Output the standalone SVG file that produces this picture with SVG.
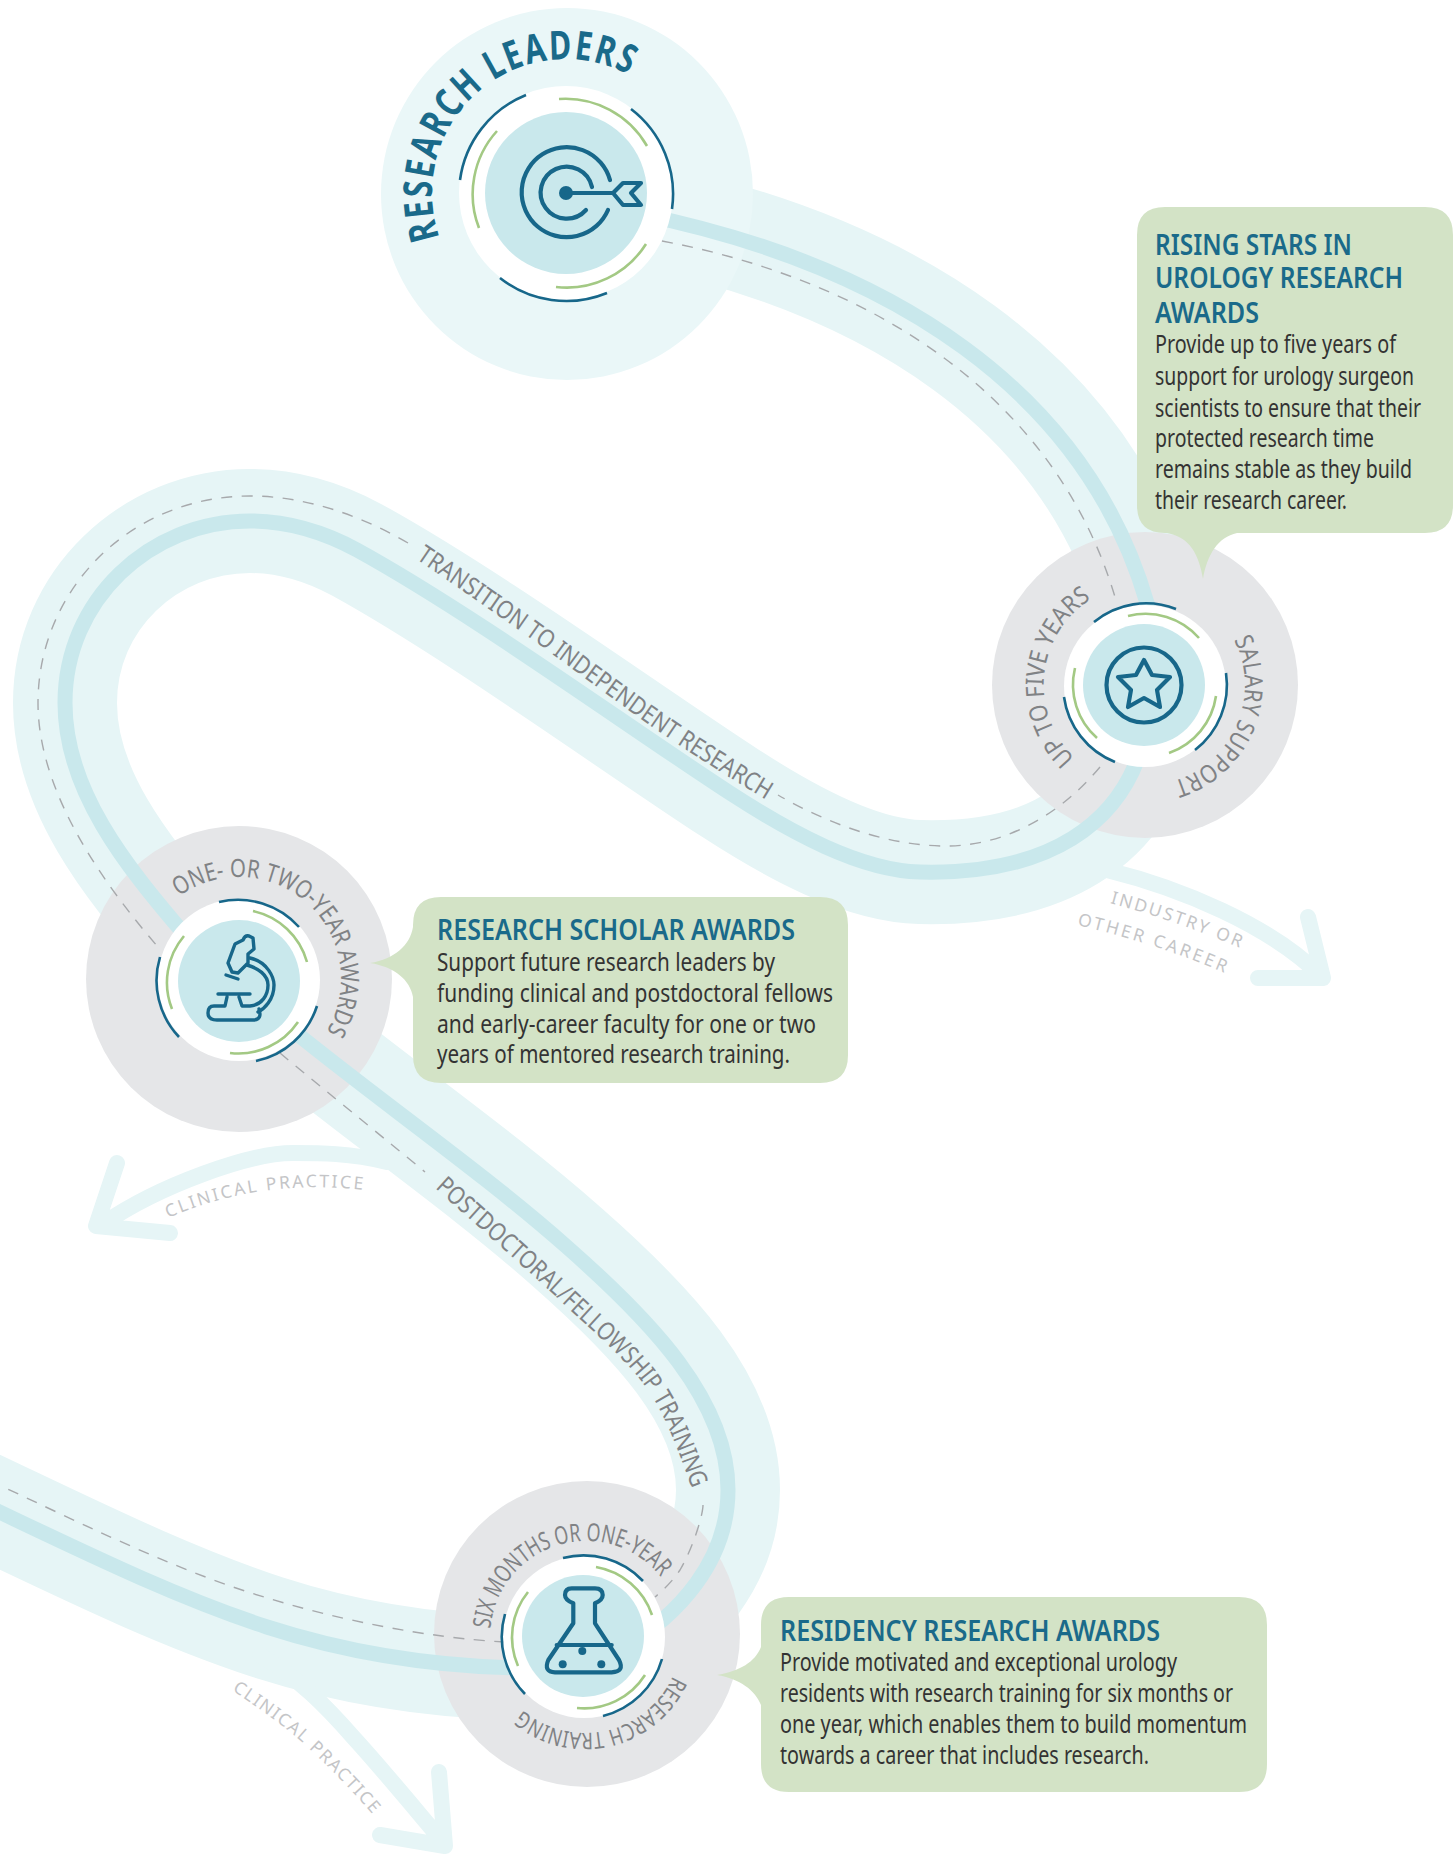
<svg xmlns="http://www.w3.org/2000/svg" width="1453" height="1854" viewBox="0 0 1453 1854">
<style>
text{font-family:"Noto Sans","Open Sans","Liberation Sans",sans-serif}
.band{fill:none;stroke:#e6f5f6;stroke-width:104}
.core{fill:none;stroke:#c9e8ec;stroke-width:15}
.dash{fill:none;stroke:#a7a9ac;stroke-width:1.4;stroke-dasharray:11 9.5}
.exit{fill:none;stroke:#e6f5f6;stroke-width:16;stroke-linecap:round;stroke-linejoin:round}
.disc{fill:#e5e6e8}
.hole{fill:#fff}
.pupil{fill:#c9e8ec}
.da{fill:none;stroke:#17678a;stroke-width:2.6}
.ga{fill:none;stroke:#a3c984;stroke-width:2.6}
.ico{fill:none;stroke:#17678a;stroke-width:4.2;stroke-linecap:round;stroke-linejoin:round}
.ico2{fill:none;stroke:#17678a;stroke-width:3.4;stroke-linecap:round;stroke-linejoin:round}
.dot{fill:#17678a}
.lab{font-size:25px;fill:#808285}
.soft{font-size:17.5px;fill:#c4c5c7}
.box{fill:#d3e3c6}
.h{font-size:28px;font-weight:600;fill:#1a6a8a}
.b{font-size:26px;fill:#333}
</style>
<defs>
<path id="r-a" d="M640,214C890,265 1085,390 1147,603L1158,650"/>
<path id="r-b" d="M1148,720C1130,830 1040,875 920,872C860,870.5 790,832 730,793C630,728 470,612 357,550C320,530 285,521 250,521C150,521 65,600 65,703C65,790 125,865 185,935"/>
<path id="r-c" d="M280,1020C375,1098 480,1170 567,1247C650,1320 728,1400 728,1490C728,1560 680,1615 620,1650"/>
<path id="r-d" d="M560,1668C460,1670 360,1657 267,1627C170,1595 80,1550 -30,1498"/>
<path id="tp-top" d="M439.6,237.5A134,134 0 0 1 631,76"/>
<path id="tp-s1" d="M1075,758A101,101 0 0 1 1091.5,599"/>
<path id="tp-s2" d="M1234,640A100,100 0 0 1 1174,781"/>
<path id="tp-m" d="M179,896.5A102,102 0 0 1 326.4,1031.5"/>
<path id="tp-f1" d="M490.4,1628.6A96,96 0 0 1 660.6,1576.6"/>
<path id="tp-f2" d="M672.7,1676A96,96 0 0 1 523.3,1710.5"/>
<path id="tp-trans" d="M416,559C434,571 482,604 523,633C564,662 620,705 661,733C702,761 750,790 768,801"/>
<path id="tp-post" d="M435,1188C457,1208 531,1273 567,1307C603,1341 630,1363 650,1393C670,1423 686,1474 693,1491"/>
<path id="tp-ind" d="M1110,903Q1180,922 1245,950"/>
<path id="tp-oth" d="M1077,925Q1155,943 1225,973"/>
<path id="tp-cl1" d="M168,1218Q260,1178 364,1190"/>
<path id="tp-cl2" d="M232,1690C258,1708 282,1724 303,1743C330,1768 355,1793 377,1820"/>
</defs>
<g id="band-layer">
<use href="#r-a" class="band"/>
<use href="#r-b" class="band"/>
<use href="#r-c" class="band"/>
<use href="#r-d" class="band"/>
</g>
<g id="exit-arrows">
<path class="exit" d="M1107,870C1180,888 1270,925 1322,977M1308,917L1323,978L1258,978"/>
<path class="exit" d="M387,1162C350,1153 320,1153 293,1153C250,1153 160,1185 103,1224M117,1163L96,1226L170,1233"/>
<path class="exit" d="M260,1655C300,1680 325,1705 353,1737C385,1772 420,1815 444,1843M439,1772L445,1846L380,1835"/>
<text class="soft" letter-spacing="3"><textPath href="#tp-ind" textLength="140">INDUSTRY OR</textPath></text>
<text class="soft" letter-spacing="3"><textPath href="#tp-oth" textLength="158">OTHER CAREER</textPath></text>
<text class="soft" letter-spacing="3"><textPath href="#tp-cl1" textLength="202">CLINICAL PRACTICE</textPath></text>
<text class="soft" letter-spacing="2"><textPath href="#tp-cl2" textLength="190">CLINICAL PRACTICE</textPath></text>
</g>
<circle id="top-halo" cx="567" cy="194" r="186" fill="#eaf7f8"/>
<circle class="disc" cx="1145" cy="685" r="153"/>
<circle class="disc" cx="239" cy="979" r="153"/>
<circle class="disc" cx="587" cy="1634" r="153"/>
<g id="connectors">
<use href="#r-a" class="core"/>
<use href="#r-b" class="core"/>
<use href="#r-c" class="core"/>
<use href="#r-d" class="core"/>
<path class="dash" d="M662,241C870,280 1055,395 1115,597"/>
<path class="dash" d="M1100,767C1060,815 1005,846 946,846C890,846 830,825 778,795"/>
<path class="dash" d="M408,543C360,515 305,496 250,496C130,496 38,590 38,703C38,790 100,880 158,947"/>
<path class="dash" d="M280,1053C300,1070 390,1143 425,1172"/>
<path class="dash" d="M703,1505C703,1515 693,1548 680,1570C672,1582 662,1591 655,1597"/>
<path class="dash" d="M505,1642C430,1638 330,1620 233,1587C150,1558 70,1518 -20,1476"/>
<text class="lab" font-size="26"><textPath href="#tp-trans" textLength="425" lengthAdjust="spacingAndGlyphs">TRANSITION TO INDEPENDENT RESEARCH</textPath></text>
<text class="lab" font-size="26"><textPath href="#tp-post" textLength="402" lengthAdjust="spacingAndGlyphs">POSTDOCTORAL/FELLOWSHIP TRAINING</textPath></text>
</g>
<g id="node-research-leaders">
<circle class="hole" cx="566" cy="193" r="107"/>
<circle class="pupil" cx="566" cy="193" r="81"/>
<path class="da" d="M460,180A107,107 0 0 1 526,95M631,109A107,107 0 0 1 672,209M500,278A107,107 0 0 0 607,293"/>
<path class="ga" d="M497,131A94,94 0 0 0 479,228M559,99A94,94 0 0 1 647,146M646,244A94,94 0 0 1 556,287"/>
<path class="ico" d="M610,180A45,45 0 1 0 608,210"/>
<path class="ico" d="M592,187A26,26 0 1 0 586,210"/>
<circle class="dot" cx="566" cy="193" r="7"/>
<path class="ico" d="M566,193H613M613,193L623,183H641L631,193L641,205H623Z"/>
<text font-size="40" font-weight="700" fill="#1a6a8a" letter-spacing="2.5"><textPath href="#tp-top" textLength="322" lengthAdjust="spacingAndGlyphs">RESEARCH LEADERS</textPath></text>
</g>
<g id="node-star">
<circle class="hole" cx="1145" cy="686" r="81"/>
<circle class="pupil" cx="1144" cy="685" r="61"/>
<path class="da" d="M1094,622A82,82 0 0 1 1176,609M1226,673A82,82 0 0 1 1195,750M1115,762A82,82 0 0 1 1064,697"/>
<path class="ga" d="M1128,616A71,71 0 0 1 1199,638M1216,696A71,71 0 0 1 1169,753M1097,738A71,71 0 0 1 1075,668"/>
<circle class="ico" cx="1144" cy="685" r="37.5"/>
<path class="ico" d="M1144,660L1152,675L1170,677L1157,690L1160,707L1144,698L1128,707L1131,690L1118,677L1136,675Z"/>
<text class="lab"><textPath href="#tp-s1" textLength="184" lengthAdjust="spacingAndGlyphs">UP TO FIVE YEARS</textPath></text>
<text class="lab"><textPath href="#tp-s2" textLength="175" lengthAdjust="spacingAndGlyphs">SALARY SUPPORT</textPath></text>
</g>
<g id="node-microscope">
<circle class="hole" cx="239" cy="980" r="81"/>
<circle class="pupil" cx="239" cy="981" r="61"/>
<path class="da" d="M219,902A82,82 0 0 1 299,927M317,1006A82,82 0 0 1 256,1061M179,1037A82,82 0 0 1 160,957"/>
<path class="ga" d="M253,911A72,72 0 0 1 307,962M298,1022A72,72 0 0 1 230,1053M172,1009A72,72 0 0 1 184,936"/>
<path class="ico2" d="M235,944L243,940Q245,935 249,936L253,938L254,949L248,954L248,963L238,973L232,972L228,963Z"/>
<path class="ico2" d="M226,975L238,979"/>
<path class="ico2" d="M250,958C268,962 274,978 274,985C274,1000 264,1009 258,1012"/>
<path class="ico2" d="M247,965C258,968 268,975 268,985C268,995 262,1005 250,1006L242,1006L239,997M218,994H250M227,997L225,1006H214Q208,1006 208,1013Q208,1020 217,1020H253Q260,1020 260,1014L259,1009"/>
<text class="lab"><textPath href="#tp-m" textLength="279" lengthAdjust="spacingAndGlyphs">ONE- OR TWO-YEAR AWARDS</textPath></text>
</g>
<g id="node-flask">
<circle class="hole" cx="584" cy="1637" r="81"/>
<circle class="pupil" cx="583" cy="1636" r="61"/>
<path class="da" d="M563,1558A82,82 0 0 1 643,1581M662,1659A82,82 0 0 1 603,1716M525,1694A82,82 0 0 1 505,1614"/>
<path class="ga" d="M596,1567A72,72 0 0 1 652,1615M645,1675A72,72 0 0 1 577,1708M518,1666A72,72 0 0 1 528,1592"/>
<path class="ico" d="M573.3,1603.3V1623.3L548.3,1660Q543.3,1671.7 555,1672.3H611.7Q625,1671.7 619,1660L595,1623.3V1603.3Q602.7,1600 602.7,1595Q602.7,1588.3 595,1588.3H571.7Q565,1588.3 565,1595Q565,1600 573.3,1603.3ZM556.7,1645H611.7"/>
<circle class="dot" cx="582.3" cy="1651" r="4"/>
<circle class="dot" cx="562.7" cy="1664.3" r="4"/>
<circle class="dot" cx="601.3" cy="1664.3" r="4"/>
<text class="lab"><textPath href="#tp-f1" textLength="228" lengthAdjust="spacingAndGlyphs">SIX MONTHS OR ONE-YEAR</textPath></text>
<text class="lab" style="font-size:23px"><textPath href="#tp-f2" textLength="178" lengthAdjust="spacingAndGlyphs">RESEARCH TRAINING</textPath></text>
</g>
<g id="callout-rising-stars">
<path class="box" d="M1165,207H1425Q1453,207 1453,235V505Q1453,533 1425,533H1237C1218,537 1207,555 1203,579C1199,555 1190,537 1167,533H1165Q1137,533 1137,505V235Q1137,207 1165,207Z"/>
<text class="h" x="1155" y="255" textLength="197" lengthAdjust="spacingAndGlyphs">RISING STARS IN</text>
<text class="h" x="1155" y="288" textLength="248" lengthAdjust="spacingAndGlyphs">UROLOGY RESEARCH</text>
<text class="h" x="1155" y="323" textLength="104" lengthAdjust="spacingAndGlyphs">AWARDS</text>
<text class="b" x="1155" y="353" textLength="241" lengthAdjust="spacingAndGlyphs">Provide up to five years of</text>
<text class="b" x="1155" y="385" textLength="259" lengthAdjust="spacingAndGlyphs">support for urology surgeon</text>
<text class="b" x="1155" y="417" textLength="266" lengthAdjust="spacingAndGlyphs">scientists to ensure that their</text>
<text class="b" x="1155" y="447" textLength="219" lengthAdjust="spacingAndGlyphs">protected research time</text>
<text class="b" x="1155" y="478" textLength="257" lengthAdjust="spacingAndGlyphs">remains stable as they build</text>
<text class="b" x="1155" y="509" textLength="192" lengthAdjust="spacingAndGlyphs">their research career.</text>
</g>
<g id="callout-research-scholar">
<path class="box" d="M441,897H820Q848,897 848,925V1055Q848,1083 820,1083H441Q413,1083 413,1055V997C410,980 395,967 370,963C395,959 410,945 413,927V925Q413,897 441,897Z"/>
<text class="h" x="437" y="940" textLength="358" lengthAdjust="spacingAndGlyphs">RESEARCH SCHOLAR AWARDS</text>
<text class="b" x="437" y="971" textLength="338" lengthAdjust="spacingAndGlyphs">Support future research leaders by</text>
<text class="b" x="437" y="1002" textLength="396" lengthAdjust="spacingAndGlyphs">funding clinical and postdoctoral fellows</text>
<text class="b" x="437" y="1033" textLength="379" lengthAdjust="spacingAndGlyphs">and early-career faculty for one or two</text>
<text class="b" x="437" y="1063" textLength="353" lengthAdjust="spacingAndGlyphs">years of mentored research training.</text>
</g>
<g id="callout-residency">
<path class="box" d="M789,1597H1239Q1267,1597 1267,1625V1764Q1267,1792 1239,1792H789Q761,1792 761,1764V1705C755,1690 740,1679 717,1675C740,1671 755,1662 761,1647V1625Q761,1597 789,1597Z"/>
<text class="h" x="780" y="1641" textLength="380" lengthAdjust="spacingAndGlyphs">RESIDENCY RESEARCH AWARDS</text>
<text class="b" x="780" y="1671" textLength="397" lengthAdjust="spacingAndGlyphs">Provide motivated and exceptional urology</text>
<text class="b" x="780" y="1702" textLength="453" lengthAdjust="spacingAndGlyphs">residents with research training for six months or</text>
<text class="b" x="780" y="1733" textLength="467" lengthAdjust="spacingAndGlyphs">one year, which enables them to build momentum</text>
<text class="b" x="780" y="1764" textLength="369" lengthAdjust="spacingAndGlyphs">towards a career that includes research.</text>
</g>
</svg>
